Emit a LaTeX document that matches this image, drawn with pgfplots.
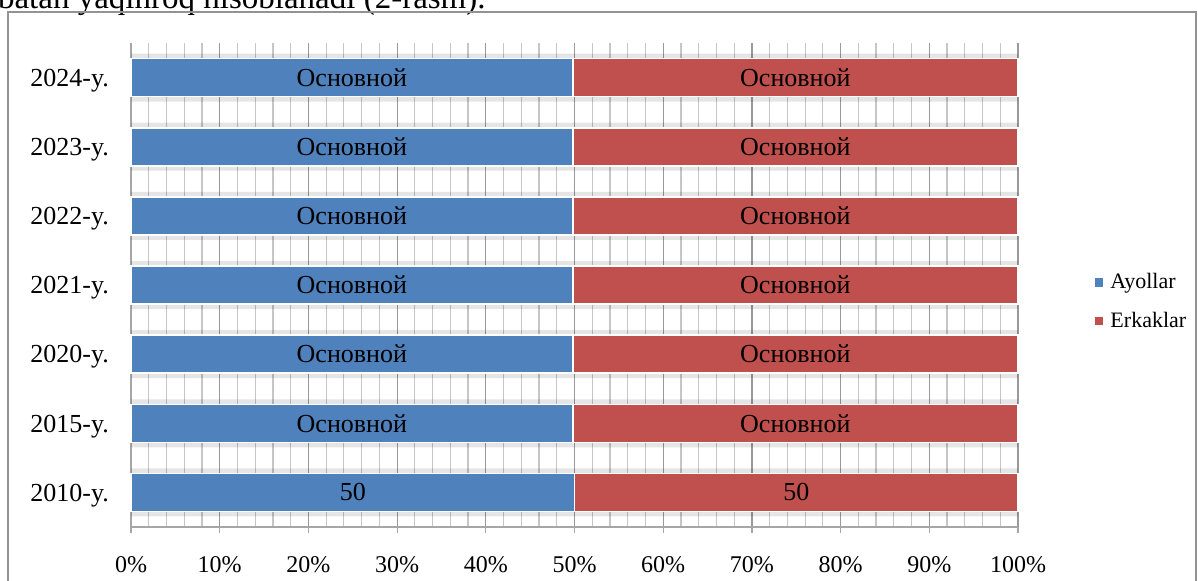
\documentclass[border=0pt]{standalone}
\usepackage{pgfplots}
\pgfplotsset{compat=1.18}
\usepackage{pgfplotstable}
\usepackage{fontspec}
\setmainfont{Liberation Serif}

\definecolor{ayol}{RGB}{79,129,189}
\definecolor{erkak}{RGB}{192,80,77}

% y: 0=2010 ... 6=2024
\pgfplotstableread{
y ayol jami mid1 mid2 lab
0 50.0 100 25.0 75.0 50
1 49.8 100 24.9 74.9 Основной
2 49.8 100 24.9 74.9 Основной
3 49.8 100 24.9 74.9 Основной
4 49.8 100 24.9 74.9 Основной
5 49.8 100 24.9 74.9 Основной
6 49.8 100 24.9 74.9 Основной
}\datatable

\begin{document}
\begin{tikzpicture}
% 1 px of the reference = 0.5pt; origin at the top-left corner
\useasboundingbox (0pt,0pt) rectangle (599pt,-290pt);
\clip (0pt,0pt) rectangle (599pt,-290pt);
% text of the page above the chart, cut off
\node[anchor=base east, font=\fontsize{16.5}{18}\selectfont, inner sep=0pt] at (243pt,-4.3pt)
  {nisbatan yaqinroq hisoblanadi (2-rasm).};
\draw[gray!85, line width=0.8pt] (4pt,-6pt) rectangle (598pt,-295pt);

\begin{axis}[
  at={(65.5pt,-263.5pt)}, anchor=south west,
  scale only axis,
  width=443.5pt, height=242pt,
  xmin=0, xmax=100, ymin=-0.5, ymax=6.5,
  xbar, bar width=19pt, bar shift=0pt,
  axis x line*=bottom, axis y line*=left,
  axis line style={gray!70, line width=0.6pt},
  xtick={0,10,...,100},
  xticklabel={\pgfmathprintnumber{\tick}\%},
  minor x tick num=4,
  xmajorgrids, xminorgrids,
  major grid style={gray!80, line width=0.6pt},
  minor grid style={gray!45, line width=0.6pt},
  tick align=outside,
  major tick length=3pt, minor tick length=0pt,
  x tick style={gray!70, line width=0.6pt},
  ytick={0,...,6},
  yticklabels={2010-y.,2015-y.,2020-y.,2021-y.,2022-y.,2023-y.,2024-y.},
  y tick style={draw=none},
  ticklabel style={font=\fontsize{12}{14}\selectfont},
  yticklabel style={font=\fontsize{13}{15}\selectfont, xshift=-4.5pt, yshift=-1.5pt},
  xticklabel style={yshift=-8pt},
  /pgf/number format/assume math mode=true,
  legend cell align=left,
  legend style={at={(1.086,0.465)}, anchor=west, draw=none, fill=none,
    font=\fontsize{11}{13}\selectfont, row sep=6pt, inner sep=0pt,
    /tikz/every odd column/.append style={column sep=1.5pt}},
  legend image code/.code={\fill[#1] (0pt,-2.2pt) rectangle (4.4pt,2.2pt);},
  clip=false,
]
% soft gray band around each bar
\addplot[draw=none, fill=black, fill opacity=0.1, bar width=24pt, forget plot]
  table[x=jami, y=y] {\datatable};
\addplot[draw=white, line width=0.8pt, fill=erkak, forget plot]
  table[x=jami, y=y] {\datatable};
\addplot[draw=white, line width=0.8pt, fill=ayol, forget plot]
  table[x=ayol, y=y] {\datatable};
% labels centred in each segment
\addplot[only marks, mark=none, point meta=explicit symbolic, nodes near coords,
  every node near coord/.style={anchor=center, font=\fontsize{13}{15}\selectfont, black},
  forget plot]
  table[x=mid1, y=y, meta=lab] {\datatable};
\addplot[only marks, mark=none, point meta=explicit symbolic, nodes near coords,
  every node near coord/.style={anchor=center, font=\fontsize{13}{15}\selectfont, black},
  forget plot]
  table[x=mid2, y=y, meta=lab] {\datatable};
\addlegendimage{fill=ayol, draw=none}
\addlegendentry{Ayollar}
\addlegendimage{fill=erkak, draw=none}
\addlegendentry{Erkaklar}
\end{axis}
\end{tikzpicture}
\end{document}
